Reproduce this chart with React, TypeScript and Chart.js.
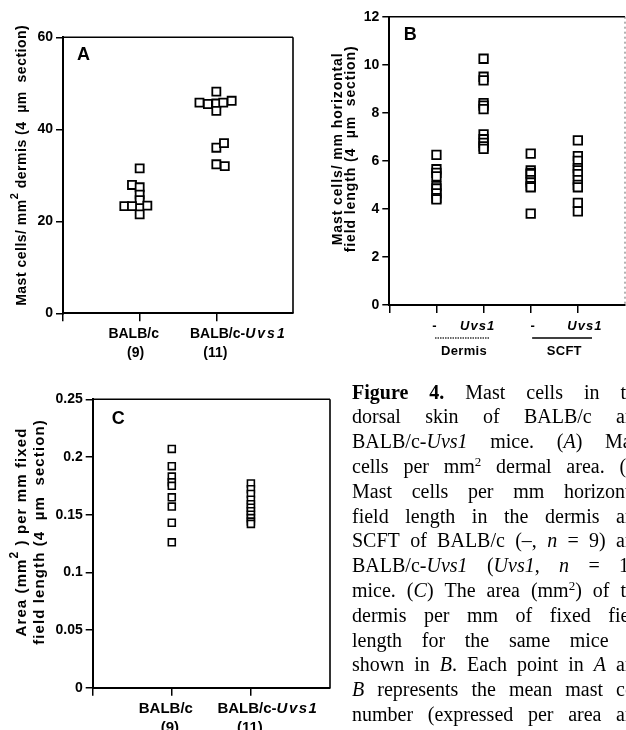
import React, { useEffect, useRef } from 'react';
import { Chart, registerables } from 'chart.js';

Chart.register(...registerables);

// ---------------- data ----------------
// Panel A: mast cells per mm^2 dermis
const aCategories = ['BALB/c', 'BALB/c-Uvs1'];
const aCounts = ['(9)', '(11)'];
const aBalbValues = [31.5, 27.9, 27.4, 25.8, 24.6, 23.3, 23.3, 23.4, 21.5];
const aBalbJitter = [1.0, 0.9, 1.0, 1.0, 1.0, 0.8, 0.9, 1.1, 1.0];
const aUvs1Values = [48.2, 45.8, 45.5, 45.6, 45.8, 46.2, 44.0, 36.0, 37.0, 32.4, 32.0];
const aUvs1Jitter = [2.0, 1.78, 1.89, 2.0, 2.09, 2.2, 2.0, 2.0, 2.1, 2.0, 2.11];
const aYTicks = [0, 20, 40, 60];
const aYTickLabels = ['0', '20', '40', '60'];
const aXTicks = [0, 1, 2];
const aYTitle = ['Mast cells/ mm^2 dermis (4  µm  section)'];

// Panel B: mast cells per mm horizontal field length
const bCategories = ['-', 'Uvs1', '-', 'Uvs1'];
const bGroups = ['Dermis', 'SCFT'];
const bDermisControl = [6.25, 5.65, 5.5, 5.35, 4.95, 4.85, 4.65, 4.45, 4.4];
const bDermisUvs1 = [10.25, 9.5, 9.35, 8.4, 8.3, 8.15, 7.1, 6.9, 6.75, 6.6, 6.5];
const bScftControl = [6.3, 5.6, 5.5, 5.45, 5.2, 5.1, 4.95, 4.9, 3.8];
const bScftUvs1 = [6.85, 6.2, 6.0, 5.7, 5.6, 5.45, 5.2, 5.0, 4.9, 4.25, 3.9];
const bYTicks = [0, 2, 4, 6, 8, 10, 12];
const bYTickLabels = ['0', '2', '4', '6', '8', '10', '12'];
const bXTicks = [0, 1, 2, 3, 4];
const bYTitle = ['Mast cells/ mm horizontal', 'field length (4  µm  section)'];

// Panel C: area per mm fixed field length
const cCategories = ['BALB/c', 'BALB/c-Uvs1'];
const cCounts = ['(9)', '(11)'];
const cBalbValues = [0.207, 0.192, 0.183, 0.178, 0.175, 0.165, 0.157, 0.143, 0.126];
const cUvs1Values = [0.177, 0.172, 0.168, 0.163, 0.159, 0.156, 0.153, 0.15, 0.147, 0.144, 0.142];
const cYTicks = [0, 0.05, 0.1, 0.15, 0.2, 0.25];
const cYTickLabels = ['0', '0.05', '0.1', '0.15', '0.2', '0.25'];
const cXTicks = [0, 1, 2];
const cYTitle = ['Area (mm^2 ) per mm fixed', 'field length (4  µm  section)'];

// Caption
const captionLines = [
  '**Figure** **4.** Mast cells in the',
  'dorsal skin of BALB/c and',
  'BALB/c-*Uvs1* mice. (*A*) Mast',
  'cells per mm^2^ dermal area. (*B*)',
  'Mast cells per mm horizontal',
  'field length in the dermis and',
  'SCFT of BALB/c (–, *n* = 9) and',
  'BALB/c-*Uvs1* (*Uvs1*, *n* = 11)',
  'mice. (*C*) The area (mm^2^) of the',
  'dermis per mm of fixed field',
  'length for the same mice as',
  'shown in *B*. Each point in *A* and',
  '*B* represents the mean mast cell',
  'number (expressed per area and',
];

// ---------------- drawing helpers ----------------
const PAGE_W = 626;
const PAGE_H = 730;
const CANVAS_W = 660;
const SANS = '"Liberation Sans", Arial, Helvetica, sans-serif';
const Y_AXIS_W = 40;
const X_AXIS_H = 20;

type Seg = { t: string; it?: boolean; sup?: boolean };

function toSegs(text: string): Seg[] {
  return text
    .split(/(\^\d|Uvs1)/)
    .filter((s) => s.length > 0)
    .map((s) => (s.startsWith('^') ? { t: s.slice(1), sup: true } : s === 'Uvs1' ? { t: s, it: true } : { t: s }));
}

function drawSegs(ctx: any, list: Seg[], x: number, y: number, size: number, spacing: number, itSpacing: number) {
  const fontOf = (s: Seg) => `${s.it ? 'italic ' : ''}bold ${s.sup ? Math.round(size * 0.8) : size}px ${SANS}`;
  const spOf = (s: Seg) => `${s.it ? itSpacing : spacing}px`;
  const ws = list.map((s) => {
    ctx.font = fontOf(s);
    ctx.letterSpacing = spOf(s);
    return ctx.measureText(s.t).width;
  });
  const total = ws.reduce((a, b) => a + b, 0);
  let cx = x - total / 2;
  ctx.textAlign = 'left';
  ctx.textBaseline = 'middle';
  list.forEach((s, i) => {
    ctx.font = fontOf(s);
    ctx.letterSpacing = spOf(s);
    ctx.fillText(s.t, cx, s.sup ? y - size * 0.5 : y);
    cx += ws[i];
  });
  ctx.letterSpacing = '0px';
}

type LabelSpec = { value: number; text: string; dx: number; row: number };
type Decor = {
  letter: string;
  letterDx: number;
  letterDy: number;
  titleLines: string[];
  titleXs: number[];
  titleDy: number;
  titleSize: number;
  titleSpacing: number;
  labels: LabelSpec[];
  rows: number[];
  labelSize: number;
  labelSpacing: number;
  italicSpacing: number;
  underlines?: { from: number; to: number; dy: number; dash: number[]; color: string }[];
  rightDashed?: boolean;
};

function makeDecor(d: Decor) {
  return {
    id: 'panelDecor',
    beforeDatasetsDraw(chart: any) {
      const { ctx, chartArea: a } = chart;
      ctx.save();
      ctx.strokeStyle = '#000';
      ctx.lineWidth = 1.6;
      ctx.beginPath();
      ctx.moveTo(a.left, a.top);
      ctx.lineTo(a.right, a.top);
      ctx.stroke();
      if (d.rightDashed) {
        ctx.setLineDash([2, 3]);
        ctx.strokeStyle = '#666';
        ctx.lineWidth = 1;
      }
      ctx.beginPath();
      ctx.moveTo(a.right, a.top);
      ctx.lineTo(a.right, a.bottom);
      ctx.stroke();
      ctx.restore();
    },
    afterDraw(chart: any) {
      const { ctx, chartArea: a } = chart;
      const xs = chart.scales.x;
      ctx.save();
      ctx.fillStyle = '#000';
      // panel letter
      ctx.font = `bold 18px ${SANS}`;
      ctx.textAlign = 'center';
      ctx.textBaseline = 'middle';
      ctx.fillText(d.letter, a.left + d.letterDx, a.top + d.letterDy);
      // y-axis title
      const yc = (a.top + a.bottom) / 2 + d.titleDy;
      d.titleLines.forEach((line, i) => {
        ctx.save();
        ctx.translate(a.left + d.titleXs[i], yc);
        ctx.rotate(-Math.PI / 2);
        drawSegs(ctx, toSegs(line), 0, 0, d.titleSize, d.titleSpacing, d.titleSpacing);
        ctx.restore();
      });
      // category labels
      d.labels.forEach((l) => {
        const px = xs.getPixelForValue(l.value) + l.dx;
        drawSegs(ctx, toSegs(l.text), px, a.bottom + d.rows[l.row], d.labelSize, d.labelSpacing, d.italicSpacing);
      });
      // underlines
      (d.underlines || []).forEach((u) => {
        ctx.save();
        ctx.strokeStyle = u.color;
        ctx.lineWidth = 1.5;
        ctx.setLineDash(u.dash);
        ctx.beginPath();
        ctx.moveTo(xs.getPixelForValue(u.from), a.bottom + u.dy);
        ctx.lineTo(xs.getPixelForValue(u.to), a.bottom + u.dy);
        ctx.stroke();
        ctx.restore();
      });
      ctx.restore();
    },
  };
}

type Area = { left: number; top: number; right: number; bottom: number };

function pointStyle(radius: number, bw: number) {
  return {
    pointStyle: 'rect',
    pointRadius: radius,
    pointHoverRadius: radius,
    pointBorderWidth: bw,
    pointHoverBorderWidth: bw,
    pointBorderColor: '#000',
    pointBackgroundColor: '#fff',
    showLine: false,
  };
}

function makeConfig(
  area: Area,
  xMax: number,
  xTicks: number[],
  yMax: number,
  yTicks: number[],
  yLabels: string[],
  tickSize: number,
  datasets: any[],
  decor: Decor
): any {
  return {
    type: 'scatter',
    data: { datasets },
    options: {
      responsive: false,
      animation: false,
      events: [],
      layout: {
        padding: {
          left: area.left - Y_AXIS_W,
          top: area.top,
          right: CANVAS_W - area.right,
          bottom: PAGE_H - area.bottom - X_AXIS_H,
        },
      },
      plugins: { legend: { display: false }, tooltip: { enabled: false } },
      scales: {
        x: {
          type: 'linear',
          min: 0,
          max: xMax,
          afterBuildTicks: (s: any) => {
            s.ticks = xTicks.map((v) => ({ value: v }));
          },
          afterFit: (s: any) => {
            s.height = X_AXIS_H;
          },
          ticks: { display: false },
          grid: { drawOnChartArea: false, drawTicks: true, tickLength: 8, color: '#000', lineWidth: 1.5 },
          border: { display: true, color: '#000', width: 2 },
        },
        y: {
          type: 'linear',
          min: 0,
          max: yMax,
          afterBuildTicks: (s: any) => {
            s.ticks = yTicks.map((v) => ({ value: v }));
          },
          afterFit: (s: any) => {
            s.width = Y_AXIS_W;
          },
          ticks: {
            color: '#000',
            padding: 3,
            font: { family: SANS, size: tickSize, weight: 'bold' },
            callback: (_v: any, i: number) => yLabels[i],
          },
          grid: { drawOnChartArea: false, drawTicks: true, tickLength: 7, color: '#000', lineWidth: 1.5 },
          border: { display: true, color: '#000', width: 2 },
        },
      },
    },
    plugins: [makeDecor(decor)],
  };
}

function buildA(): any {
  const area = { left: 63, top: 37.3, right: 293, bottom: 313.3 };
  const ds = [
    { data: aBalbValues.map((y, i) => ({ x: aBalbJitter[i], y })), ...pointStyle(5.7, 1.8) },
    { data: aUvs1Values.map((y, i) => ({ x: aUvs1Jitter[i], y })), ...pointStyle(5.7, 1.8) },
  ];
  const decor: Decor = {
    letter: 'A',
    letterDx: 20.5,
    letterDy: 18,
    titleLines: aYTitle,
    titleXs: [-41],
    titleDy: -10,
    titleSize: 14,
    titleSpacing: 0.5,
    labels: [
      { value: 1, text: aCategories[0], dx: -6, row: 0 },
      { value: 1, text: aCounts[0], dx: -4, row: 1 },
      { value: 2, text: aCategories[1], dx: 22, row: 0 },
      { value: 2, text: aCounts[1], dx: -1, row: 1 },
    ],
    rows: [21, 39.4],
    labelSize: 14,
    labelSpacing: 0,
    italicSpacing: 2,
  };
  return makeConfig(area, 3, aXTicks, 60, aYTicks, aYTickLabels, 14, ds, decor);
}

function buildB(): any {
  const area = { left: 389.3, top: 16.7, right: 625, bottom: 305 };
  const groups = [bDermisControl, bDermisUvs1, bScftControl, bScftUvs1];
  const ds = groups.map((vals, gi) => ({
    data: vals.map((y) => ({ x: gi + 1, y })),
    ...pointStyle(6, 1.8),
  }));
  const decor: Decor = {
    letter: 'B',
    letterDx: 21,
    letterDy: 18.5,
    titleLines: bYTitle,
    titleXs: [-51.6, -38.6],
    titleDy: -12,
    titleSize: 14,
    titleSpacing: 0.9,
    labels: [
      { value: 1, text: bCategories[0], dx: -2, row: 0 },
      { value: 2, text: bCategories[1], dx: -6, row: 0 },
      { value: 3, text: bCategories[2], dx: 2, row: 0 },
      { value: 4, text: bCategories[3], dx: 7, row: 0 },
      { value: 1.5, text: bGroups[0], dx: 4, row: 1 },
      { value: 3.5, text: bGroups[1], dx: 10, row: 1 },
    ],
    rows: [21.7, 46.7],
    labelSize: 13,
    labelSpacing: 0.3,
    italicSpacing: 1,
    underlines: [
      { from: 0.97, to: 2.12, dy: 33, dash: [1.5, 1], color: '#333' },
      { from: 3.03, to: 4.3, dy: 33, dash: [], color: '#000' },
    ],
    rightDashed: true,
  };
  return makeConfig(area, 5, bXTicks, 12, bYTicks, bYTickLabels, 14, ds, decor);
}

function buildC(): any {
  const area = { left: 92.7, top: 399.3, right: 330, bottom: 687.7 };
  const ds = [
    { data: cBalbValues.map((y) => ({ x: 1, y })), ...pointStyle(4.9, 1.6) },
    { data: cUvs1Values.map((y) => ({ x: 2, y })), ...pointStyle(4.9, 1.6) },
  ];
  const decor: Decor = {
    letter: 'C',
    letterDx: 25.6,
    letterDy: 20,
    titleLines: cYTitle,
    titleXs: [-71, -52.7],
    titleDy: -11.5,
    titleSize: 15,
    titleSpacing: 1.1,
    labels: [
      { value: 1, text: cCategories[0], dx: -6, row: 0 },
      { value: 1, text: cCounts[0], dx: -2, row: 1 },
      { value: 2, text: cCategories[1], dx: 17, row: 0 },
      { value: 2, text: cCounts[1], dx: -1, row: 1 },
    ],
    rows: [21, 40],
    labelSize: 15,
    labelSpacing: 0,
    italicSpacing: 1.5,
  };
  return makeConfig(area, 3, cXTicks, 0.25, cYTicks, cYTickLabels, 14, ds, decor);
}

// ---------------- caption ----------------
function renderWord(word: string, key: number) {
  const parts = word.split(/(\*\*[^*]+\*\*|\*[^*]+\*|\^[^^]+\^)/).filter((p) => p.length > 0);
  return (
    <span key={key} style={{ whiteSpace: 'nowrap' }}>
      {parts.map((p, i) => {
        if (p.startsWith('**')) return <b key={i}>{p.slice(2, -2)}</b>;
        if (p.startsWith('*')) return <i key={i}>{p.slice(1, -1)}</i>;
        if (p.startsWith('^'))
          return (
            <sup key={i} style={{ fontSize: '0.65em', lineHeight: 0, verticalAlign: '0.55em' }}>
              {p.slice(1, -1)}
            </sup>
          );
        return <span key={i}>{p}</span>;
      })}
    </span>
  );
}

function Caption() {
  const lineH = 24.8;
  const colW = 293;
  return (
    <div
      style={{
        position: 'absolute',
        left: 352,
        top: 379.7,
        width: colW,
        fontFamily: '"Liberation Serif", "Times New Roman", serif',
        fontSize: 20,
        color: '#000',
      }}
    >
      {captionLines.map((line, li) => (
        <div
          key={li}
          style={{
            display: 'flex',
            justifyContent: 'space-between',
            width: colW,
            height: lineH,
            lineHeight: `${lineH}px`,
            whiteSpace: 'nowrap',
          }}
        >
          {line.split(' ').map((w, wi) => renderWord(w, wi))}
        </div>
      ))}
    </div>
  );
}

// ---------------- app ----------------
export default function App() {
  const refA = useRef<HTMLCanvasElement | null>(null);
  const refB = useRef<HTMLCanvasElement | null>(null);
  const refC = useRef<HTMLCanvasElement | null>(null);

  useEffect(() => {
    document.documentElement.style.overflow = 'hidden';
    document.body.style.overflow = 'hidden';
    const charts: Chart[] = [];
    if (refA.current) charts.push(new Chart(refA.current, buildA()));
    if (refB.current) charts.push(new Chart(refB.current, buildB()));
    if (refC.current) charts.push(new Chart(refC.current, buildC()));
    return () => charts.forEach((c) => c.destroy());
  }, []);

  const canvasStyle: React.CSSProperties = {
    position: 'absolute',
    left: 0,
    top: 0,
    width: CANVAS_W,
    height: PAGE_H,
  };

  return (
    <div
      style={{
        position: 'fixed',
        left: 0,
        top: 0,
        width: PAGE_W,
        height: PAGE_H,
        overflow: 'hidden',
        background: '#fff',
      }}
    >
      <canvas ref={refA} width={CANVAS_W} height={PAGE_H} style={canvasStyle} />
      <canvas ref={refB} width={CANVAS_W} height={PAGE_H} style={canvasStyle} />
      <canvas ref={refC} width={CANVAS_W} height={PAGE_H} style={canvasStyle} />
      <Caption />
    </div>
  );
}
